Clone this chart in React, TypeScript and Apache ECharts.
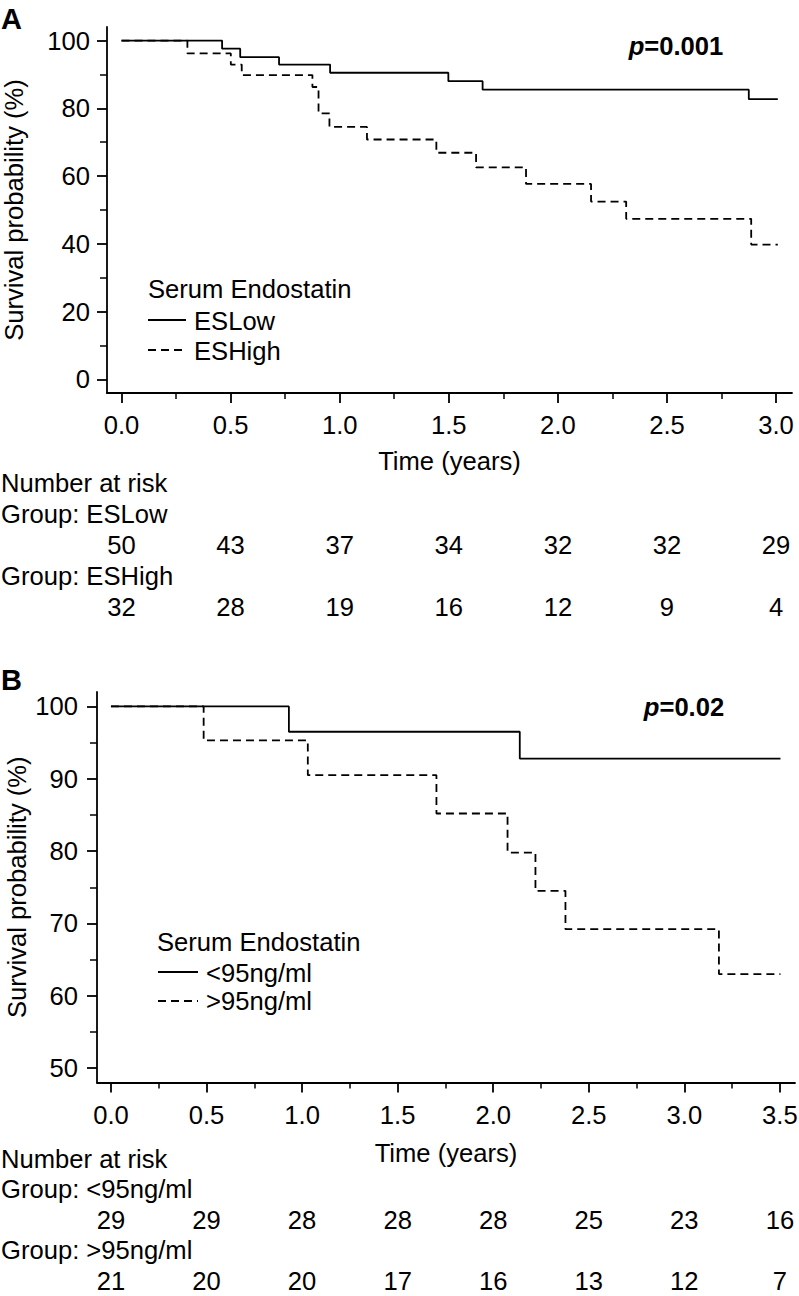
import React, { useEffect, useRef } from "react";
import * as echarts from "echarts";

// ---------- Panel A data ----------
const timeLowA = [0, 0.461, 0.544, 0.722, 0.956, 1.498, 1.655, 2.875, 3.008];
const survLowA = [100, 97.6, 95.1, 92.9, 90.5, 88.0, 85.5, 82.7, 82.7];
const timeHighA = [0, 0.302, 0.501, 0.551, 0.875, 0.903, 0.953, 1.125, 1.443, 1.625, 1.854, 2.152, 2.313, 2.886, 3.008];
const survHighA = [100, 96.2, 92.9, 89.8, 86.3, 78.5, 74.5, 70.8, 66.9, 62.6, 57.7, 52.5, 47.4, 39.8, 39.8];
const xTicksA = [0, 0.5, 1, 1.5, 2, 2.5, 3];
const xMinorA = [0.25, 0.75, 1.25, 1.75, 2.25, 2.75];
const yTicksA = [0, 20, 40, 60, 80, 100];
const yMinorA = [10, 30, 50, 70, 90];
const riskLowA = [50, 43, 37, 34, 32, 32, 29];
const riskHighA = [32, 28, 19, 16, 12, 9, 4];
const groupNamesA = ["ESLow", "ESHigh"];
const pValueA = "0.001";

// ---------- Panel B data ----------
const timeLowB = [0, 0.931, 2.139, 3.503];
const survLowB = [100, 96.5, 92.8, 92.8];
const timeHighB = [0, 0.485, 1.03, 1.703, 2.075, 2.221, 2.378, 3.181, 3.503];
const survHighB = [100, 95.3, 90.5, 85.2, 79.8, 74.5, 69.2, 63.0, 63.0];
const xTicksB = [0, 0.5, 1, 1.5, 2, 2.5, 3, 3.5];
const xMinorB = [0.25, 0.75, 1.25, 1.75, 2.25, 2.75, 3.25];
const yTicksB = [50, 60, 70, 80, 90, 100];
const yMinorB = [55, 65, 75, 85, 95];
const riskLowB = [29, 29, 28, 28, 28, 25, 23, 16];
const riskHighB = [21, 20, 20, 17, 16, 13, 12, 7];
const groupNamesB = ["<95ng/ml", ">95ng/ml"];
const pValueB = "0.02";

const FONT = "'Liberation Sans', Arial, Helvetica, sans-serif";
const FS = 25.6;
const INK = "#000";
const DASH = [8, 5];
const LW = 1.8;

function pairs(t: number[], v: number[]) {
  return t.map((x, i) => [x, v[i]]);
}

function mainX(gridIndex: number, min: number, max: number, ticks: number[], nameGap: number) {
  return {
    type: "value",
    gridIndex,
    min,
    max,
    position: "bottom",
    name: "Time (years)",
    nameLocation: "middle",
    nameGap,
    nameMoveOverlap: false,
    nameTextStyle: { fontFamily: FONT, fontSize: FS, color: INK },
    axisLine: { show: true, onZero: false, lineStyle: { color: INK, width: LW } },
    axisTick: { show: true, customValues: ticks, length: 10, lineStyle: { color: INK, width: LW } },
    axisLabel: {
      show: true,
      customValues: ticks,
      margin: 19,
      fontFamily: FONT,
      fontSize: FS,
      color: INK,
      formatter: (v: number) => v.toFixed(1),
    },
    splitLine: { show: false },
  };
}

function minorX(gridIndex: number, min: number, max: number, ticks: number[]) {
  return {
    type: "value",
    gridIndex,
    min,
    max,
    position: "bottom",
    offset: 0,
    axisLine: { show: false, onZero: false },
    axisTick: { show: true, customValues: ticks, length: 6, lineStyle: { color: INK, width: 1.5 } },
    axisLabel: { show: false },
    splitLine: { show: false },
  };
}

function mainY(gridIndex: number, min: number, max: number, ticks: number[], margin: number, nameGap: number) {
  return {
    type: "value",
    gridIndex,
    min,
    max,
    position: "left",
    name: "Survival probability (%)",
    nameLocation: "middle",
    nameGap,
    nameMoveOverlap: false,
    nameTextStyle: { fontFamily: FONT, fontSize: FS, color: INK },
    axisLine: { show: true, onZero: false, lineStyle: { color: INK, width: LW } },
    axisTick: { show: true, customValues: ticks, length: 10, lineStyle: { color: INK, width: LW } },
    axisLabel: {
      show: true,
      customValues: ticks,
      margin,
      fontFamily: FONT,
      fontSize: FS,
      color: INK,
      formatter: (v: number) => String(v),
    },
    splitLine: { show: false },
  };
}

function minorY(gridIndex: number, min: number, max: number, ticks: number[]) {
  return {
    type: "value",
    gridIndex,
    min,
    max,
    position: "left",
    offset: 0,
    axisLine: { show: false, onZero: false },
    axisTick: { show: true, customValues: ticks, length: 7, lineStyle: { color: INK, width: 1.5 } },
    axisLabel: { show: false },
    splitLine: { show: false },
  };
}

function stepSeries(t: number[], v: number[], xi: number, yi: number, dashed: boolean, name: string) {
  return {
    type: "line",
    name,
    xAxisIndex: xi,
    yAxisIndex: yi,
    step: "end",
    symbol: "none",
    showSymbol: false,
    data: pairs(t, v),
    lineStyle: { color: INK, width: LW, type: dashed ? DASH : "solid" },
    emphasis: { disabled: true },
  };
}

function txt(text: string, x: number, y: number, align: string, extra: any = {}) {
  return {
    type: "text",
    x,
    y,
    silent: true,
    style: {
      text,
      fontFamily: FONT,
      fontSize: FS,
      fill: INK,
      align,
      verticalAlign: "middle",
      textAlign: align,
      textVerticalAlign: "middle",
      ...extra,
    },
  };
}

function pText(value: string, x: number, y: number) {
  return {
    type: "text",
    x,
    y,
    silent: true,
    style: {
      text: "{i|p}{b|=" + value + "}",
      align: "center",
      verticalAlign: "middle",
      textAlign: "center",
      textVerticalAlign: "middle",
      rich: {
        i: { fontFamily: FONT, fontSize: FS, fontWeight: "bold", fontStyle: "italic", fill: INK, color: INK },
        b: { fontFamily: FONT, fontSize: FS, fontWeight: "bold", fill: INK, color: INK },
      },
    },
  };
}

function legendLine(x1: number, x2: number, y: number, dashed: boolean) {
  return {
    type: "line",
    silent: true,
    shape: { x1, y1: y, x2, y2: y },
    style: { stroke: INK, lineWidth: LW, lineDash: dashed ? DASH : null },
  };
}

export default function App() {
  const ref = useRef<HTMLDivElement>(null);

  useEffect(() => {
    if (!ref.current) return;
    const chart = echarts.init(ref.current, null, { renderer: "svg" });

    const xMinA = -0.0665, xMaxA = 3.073;
    const xMinB = -0.073, xMaxB = 3.579;

    chart.setOption({
      animation: false,
      backgroundColor: "#fff",
      grid: [
        { left: 107, top: 27, width: 685, height: 366, containLabel: false, outerBoundsMode: "none" },
        { left: 97, top: 692, width: 698, height: 390.5, containLabel: false, outerBoundsMode: "none" },
      ],
      xAxis: [
        mainX(0, xMinA, xMaxA, xTicksA, 55),
        minorX(0, xMinA, xMaxA, xMinorA),
        mainX(1, xMinB, xMaxB, xTicksB, 57),
        minorX(1, xMinB, xMaxB, xMinorB),
      ],
      yAxis: [
        mainY(0, -4, 104, yTicksA, 17, 80),
        minorY(0, -4, 104, yMinorA),
        mainY(1, 48, 102, yTicksB, 19, 67),
        minorY(1, 48, 102, yMinorB),
      ],
      series: [
        stepSeries(timeLowA, survLowA, 0, 0, false, groupNamesA[0]),
        stepSeries(timeHighA, survHighA, 0, 0, true, groupNamesA[1]),
        stepSeries(timeLowB, survLowB, 2, 2, false, groupNamesB[0]),
        stepSeries(timeHighB, survHighB, 2, 2, true, groupNamesB[1]),
      ],
    });

    const g: any[] = [];
    // Panel labels
    g.push(txt("A", 1, 19, "left", { fontWeight: "bold", fontSize: 29 }));
    g.push(txt("B", 1, 680, "left", { fontWeight: "bold", fontSize: 29 }));
    // p-values
    g.push(pText(pValueA, 676, 46));
    g.push(pText(pValueB, 684, 707));
    // Legend A
    g.push(txt("Serum Endostatin", 148, 289, "left"));
    g.push(legendLine(148, 186, 320, false));
    g.push(txt(groupNamesA[0], 194, 321, "left"));
    g.push(legendLine(148, 186, 350, true));
    g.push(txt(groupNamesA[1], 194, 351, "left"));
    // Legend B
    g.push(txt("Serum Endostatin", 157, 942, "left"));
    g.push(legendLine(158, 198, 972, false));
    g.push(txt(groupNamesB[0], 206, 973, "left"));
    g.push(legendLine(158, 198, 1001, true));
    g.push(txt(groupNamesB[1], 206, 1001, "left"));

    // Number at risk A
    g.push(txt("Number at risk", 1, 483, "left"));
    g.push(txt("Group: " + groupNamesA[0], 1, 514, "left"));
    g.push(txt("Group: " + groupNamesA[1], 1, 576, "left"));
    xTicksA.forEach((t, i) => {
      const px = chart.convertToPixel({ xAxisIndex: 0 }, t) as number;
      g.push(txt(String(riskLowA[i]), px, 545, "center"));
      g.push(txt(String(riskHighA[i]), px, 607, "center"));
    });
    // Number at risk B
    g.push(txt("Number at risk", 1, 1159, "left"));
    g.push(txt("Group: " + groupNamesB[0], 1, 1189, "left"));
    g.push(txt("Group: " + groupNamesB[1], 1, 1250, "left"));
    xTicksB.forEach((t, i) => {
      const px = chart.convertToPixel({ xAxisIndex: 2 }, t) as number;
      g.push(txt(String(riskLowB[i]), px, 1220, "center"));
      g.push(txt(String(riskHighB[i]), px, 1281, "center"));
    });

    chart.setOption({ graphic: { elements: g } });

    return () => chart.dispose();
  }, []);

  return (
    <div
      ref={ref}
      style={{ position: "absolute", left: 0, top: 0, width: 799, height: 1296, background: "#fff" }}
    />
  );
}
